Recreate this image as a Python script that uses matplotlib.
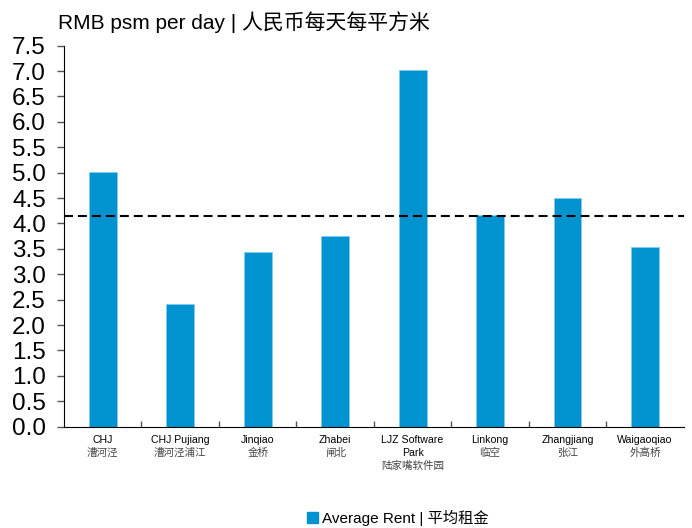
import matplotlib
matplotlib.use("Agg")
import matplotlib.pyplot as plt
import matplotlib.transforms as mtransforms
from matplotlib.patches import Patch
from matplotlib.ticker import MultipleLocator, FormatStrFormatter

plt.rcParams['font.family'] = ['Liberation Sans', 'Noto Sans CJK SC', 'DejaVu Sans']

# data
names_en = ["CHJ", "CHJ Pujiang", "Jinqiao", "Zhabei", "LJZ Software\nPark",
            "Linkong", "Zhangjiang", "Waigaoqiao"]
names_cn = ["漕河泾", "漕河泾浦江", "金桥", "闸北", "陆家嘴软件园",
            "临空", "张江", "外高桥"]
rent = [5.02, 2.42, 3.43, 3.75, 7.02, 4.17, 4.51, 3.53]
average = 4.15

BLUE = "#0093D0"

fig = plt.figure(figsize=(6.92, 5.28), dpi=100)
ax = fig.add_axes([0.0925, 0.192, 0.8955, 0.7215])

x = list(range(len(rent)))
ax.bar(x, rent, width=0.36, color=BLUE, edgecolor="#7fcdf0", linewidth=0.6, zorder=2)
ax.axhline(average, color="black", lw=1.5, dashes=(4.3, 2.4), zorder=3)

ax.set_xlim(-0.5, len(rent) - 0.5)
ax.set_ylim(0, 7.5)
ax.yaxis.set_major_locator(MultipleLocator(0.5))
ax.yaxis.set_major_formatter(FormatStrFormatter("%.1f"))
ax.tick_params(axis="y", direction="out", length=5, width=1, color="#555555",
               labelsize=17.5, pad=8)

# category separators on the bottom axis
ax.set_xticks(x)
ax.set_xticklabels([])
ax.tick_params(axis="x", which="major", length=0)
ax.set_xticks([i + 0.5 for i in x[:-1]], minor=True)
ax.tick_params(axis="x", which="minor", direction="in", length=4, width=1, color="#555555")

for s in ["top", "right"]:
    ax.spines[s].set_visible(False)
ax.spines["left"].set_color("black")
ax.spines["bottom"].set_color("black")

trans = mtransforms.blended_transform_factory(ax.transData, fig.transFigure)
for i, (en, cn) in enumerate(zip(names_en, names_cn)):
    ax.text(i, 1 - 440 / 528, en.split("\n")[0], transform=trans, ha="center",
            va="center", fontsize=7.6, color="black")
    nlines = en.count("\n") + 1
    if nlines > 1:
        ax.text(i, 1 - 453 / 528, en.split("\n")[1], transform=trans, ha="center",
                va="center", fontsize=7.6, color="black")
    ax.text(i, 1 - (440 + 13 * nlines) / 528, cn, transform=trans, ha="center",
            va="center", fontsize=7.6, color="#444444")

fig.text(0.084, 1 - 22 / 528, "RMB psm per day | 人民币每天每平方米",
         fontsize=15, ha="left", va="center")

handle = Patch(facecolor=BLUE, edgecolor=BLUE)
fig.legend([handle], ["Average Rent | 平均租金"], loc="center",
           bbox_to_anchor=(0.575, 1 - 518 / 528), frameon=False, fontsize=11,
           handlelength=0.7, handleheight=0.7, handletextpad=0.3)

fig.savefig("out.png", dpi=100)
